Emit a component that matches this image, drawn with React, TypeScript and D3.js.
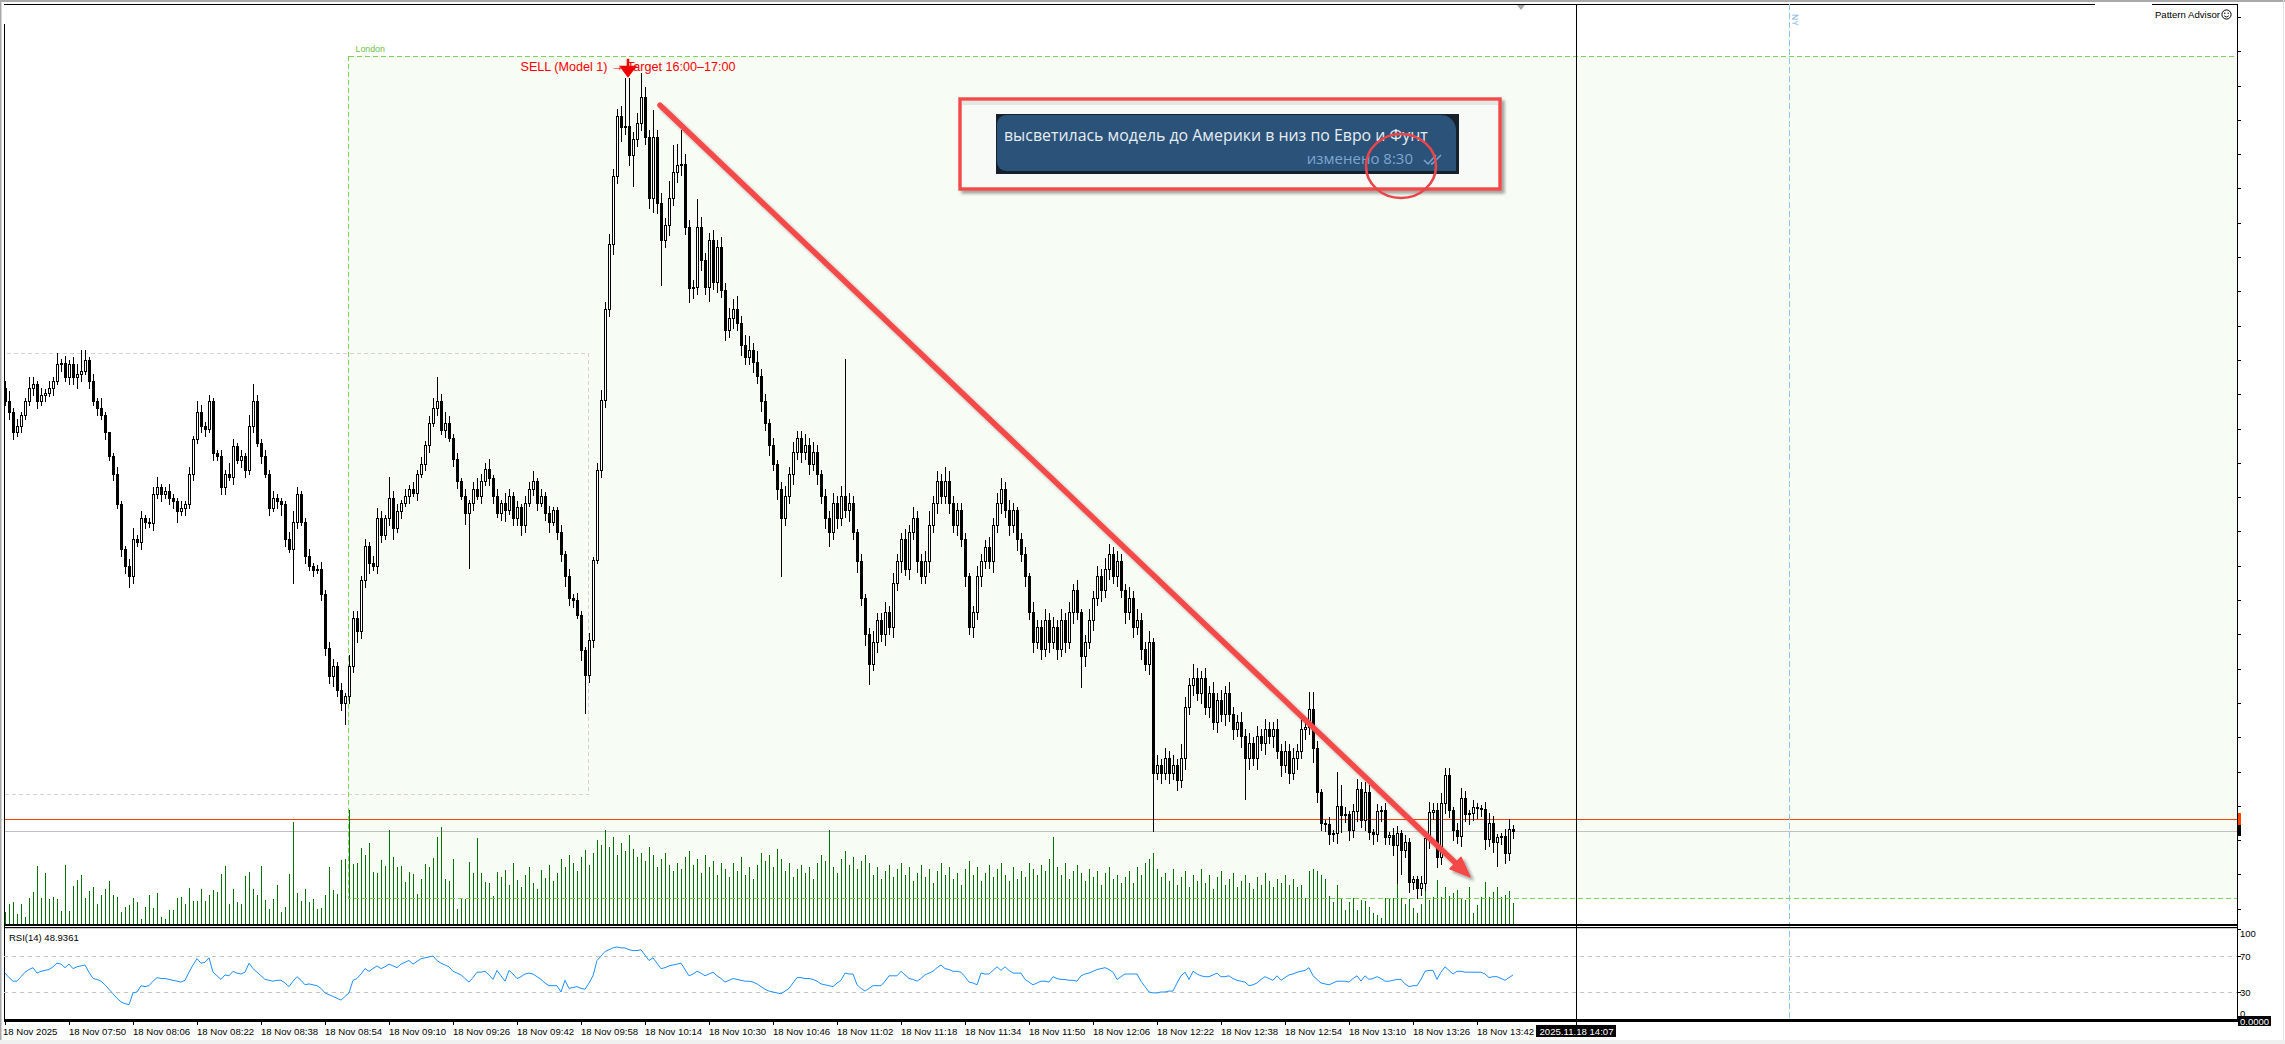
import React from "react";
import * as d3 from "d3";

// ---------- DATA (M1 candles, prices in points above 1.15700) ----------
const FIRST_OPEN = 161;
const CLOSES = [
  157,154,148,150,153,157,161,162,157,159,
  159.5,161,163,168,168.3,164,168,164,165,166,
  169,163,157,155,153,148,141,136,127,114,
  109,106,117,116,123,122,121.5,130,132,130,
  131,129,128,125,126,127,136,146,154,150,
  149,157,142,141,132,136,135,144,140,141,
  137,150,157,145,141,136,126,129,128,127,
  117,114,122,130,122,112,109,108,108.3,101,
  85,77,80,73,69,71,80,94,90,105,
  115,110,109,123,118,123,129,120,125,127.4,
  129.5,131.6,130.4,135.9,138.9,144.4,150.8,155,157.1,148.6,
  150.8,146.5,140.1,133.8,129.5,124.4,127.4,131.6,129.5,133.8,
  137.2,134.6,129.5,124.4,127.4,125.3,129.5,123.1,126.1,121,
  127.4,131.6,133.8,127.4,129.5,124.4,121.9,125.3,118.9,112.5,
  106.1,99.8,99.1,94.8,84.5,77.3,87.5,110.8,137,157.4,
  183.9,202.9,222.7,240.2,237,237.3,228.9,233.5,238.2,245.8,
  234.1,216.3,234.1,214.9,204.1,208.5,216.3,223.9,226,226.2,
  207.9,190.1,190.4,207.9,198.3,190.4,204.1,191.8,202,189.5,
  177.8,181.3,183.9,179.9,173.5,169.9,172,168.6,164.4,157.1,
  150.8,144.4,138.9,131.6,123.1,129.5,135.9,142.3,146.5,142.3,
  144.4,138.9,142.3,135.9,129.5,123.1,118.9,127.4,123.1,129.5,
  125.3,127.4,118.9,110.4,99.8,89.1,80.6,87,93.4,89.1,
  95.5,91.3,104,110.4,116.8,108.3,118.9,123.1,110.4,106.1,
  110.4,121,127.4,133.8,129.5,133.8,127.4,121,125.3,116.8,
  106.1,91.3,95.5,106.1,110.4,114.6,110.4,121,127.4,131.6,
  125.3,121,125.3,116.8,112.5,106.1,95.5,87,91.3,84.9,
  93.4,87,91.3,84.9,93.4,87,95.5,101.9,95.5,82.8,
  87,93.4,99.8,106.1,101.9,108.3,112.5,106.1,110.4,101.9,
  95.5,99.8,91.3,93.4,84.9,80.6,87,48.8,50.9,48.8,
  53,48.8,50.9,46.6,53,67.9,74.3,76.4,72.1,76.4,
  67.9,72.1,63.6,70,65.8,72.1,65.8,61.5,63.6,59.4,
  53,57.3,53,59.4,57.3,61.5,59.4,61.5,55.1,50.9,
  55.1,48.8,53,55.1,61.5,62.1,67.3,56,43.1,34.1,
  33.8,30.9,31.2,39.1,36.4,36.7,32.1,37.6,44,35,
  43.1,31.5,30.9,37.6,38,30,30.6,27.7,31.2,26.2,
  28.6,16.9,17.8,15.2,16.6,29.7,37.3,37.9,24.2,39.9,
  48.1,37.9,32.1,30.3,41.4,36.7,37,38.8,38.5,38.2,
  29.4,34.1,28.6,30,30.3,25.4,32.4,31.8
];
const WICK_UP = [
  2,3,1,2,1,1,3,2,1,2, 1,2,1,3,1,2,1,2,3,6, 3,1,2,1,3,1,0,1,2,1, 1,2,3,1,2,1,1,2,3,1,
  1,2,1,1,2,1,2,1,3,2, 1,2,1,1,2,1,3,2,1,2, 1,3,5,2,1,2,1,2,1,1, 1,2,3,2,1,1,2,1,1,2,
  1,2,2,1,2,1,3,2,2,1, 2,1,2,3,2,1,6,2,2,1, 2,1,2,1,2,1,2,3,7,2, 3,2,1,2,1,2,1,2,3,2,
  2,3,1,2,1,3,2,1,2,1, 2,2,3,1,2,1,2,1,1,2, 1,2,1,2,1,1,2,1,2,3, 2,3,2,2,3,14,14,2,3,7,
  3,2,8,2,3,2,5,8,6,10, 3,2,2,8,3,2,2,3,2,3, 2,3,3,4,2,3,4,2,3,2, 2,1,2,1,2,3,2,3,2,2,
  3,2,3,2,1,2,2,3,2,3, 40,3,2,1,2,1,2,3,2,2, 3,2,3,2,2,3,2,3,2,2, 3,4,2,3,2,4,3,2,2,2,
  2,1,2,3,2,2,3,2,3,3, 2,3,2,1,2,2,1,3,2,2, 3,2,3,2,3,2,3,2,3,1, 2,3,2,3,2,3,3,2,3,2,
  2,3,2,3,2,2,3,1,3,2, 3,2,3,2,4,3,2,4,3,2, 3,2,3,2,3,2,3,2,2,3, 2,3,2,3,2,3,2,2,3,2,
  3,2,3,2,3,2,5,5,2,1, 1,2,1,10,6,2,1,2,3,2, 3,2,1,2,1,2,1,2,2,1, 2,1,1,1,2,2,3,2,2,3,
  2,2,1,2,3,2,1,2,1,1, 2,3,2,1,1,2,3,1
];
const WICK_DN = [
  1,2,2,1,2,1,1,2,2,1, 2,1,2,1,2,1,2,2,3,2, 1,2,1,2,1,2,1,2,1,2, 2,3,2,1,2,2,1,2,1,2,
  1,2,2,3,1,2,1,2,1,2, 2,1,2,1,2,2,1,2,1,2, 2,1,2,1,2,1,2,1,2,3, 2,1,10,2,1,2,1,2,1,2,
  2,2,3,2,2,6,2,2,3,2, 2,3,1,2,2,1,2,3,1,2, 1,2,1,2,1,2,2,1,2,1, 2,1,2,2,1,3,16,2,1,2,
  1,2,2,1,2,3,1,2,2,3, 2,1,2,2,1,2,3,1,2,2, 3,2,2,1,3,11,2,2,1,2, 2,2,3,2,4,2,3,9,2,2,
  2,3,4,3,13,2,3,2,3,3, 2,4,3,2,3,2,4,2,3,2, 3,2,3,2,3,2,2,3,2,3, 2,3,2,3,17,2,2,3,2,3,
  2,3,2,3,2,3,4,2,3,2, 2,3,2,3,2,3,6,2,3,2, 3,2,3,2,3,2,3,2,3,2, 2,3,2,3,2,2,3,2,3,2,
  3,2,3,2,3,2,2,3,2,3, 2,3,2,3,2,3,2,3,2,3, 2,3,2,3,2,3,2,3,2,9, 3,2,3,2,3,2,3,2,3,2,
  3,2,3,2,3,2,3,17,2,3, 2,3,2,3,2,3,2,3,2,3, 2,3,2,3,2,3,2,3,2,3, 12,3,2,3,2,3,2,3,2,3,
  2,3,2,3,2,3,2,4,3,2, 2,3,2,3,5,2,3,2,3,2, 3,2,3,2,3,2,2,3,11,7, 2,3,2,3,2,2,3,2,3,2,
  3,2,3,2,3,2,3,2,3,2, 3,2,3,7,2,3,2,2
];
const VOLUMES = [
  13,21,23,11,21,8,27,33,59,27, 52,26,28,26,14,60,14,39,45,50, 27,34,38,21,30,36,44,30,28,13,
  18,20,27,23,6,18,30,17,32,8, 6,15,15,27,28,21,37,24,24,36, 24,30,35,33,51,59,21,36,23,21,
  49,53,36,30,59,25,16,26,40,13, 18,51,103,32,24,36,23,26,16,17, 30,58,35,31,65,66,115,61,62,77,
  70,82,53,52,65,59,95,68,58,59, 43,53,51,31,46,61,58,67,88,98, 46,44,66,16,26,26,63,52,87,52,
  43,42,29,53,48,55,40,62,45,38, 50,58,42,36,55,47,60,44,52,66, 58,70,62,54,68,75,60,72,85,80,
  95,78,88,70,82,74,90,76,68,72, 64,78,70,58,66,72,60,54,62,56, 68,74,60,66,52,70,58,64,50,62,
  56,48,62,54,68,50,58,46,60,72, 64,70,58,76,66,54,62,48,56,60, 52,58,46,62,70,64,95,58,52,66,
  74,60,68,56,64,70,62,50,58,46, 54,60,48,56,62,50,58,44,52,60, 48,56,42,54,62,50,58,46,52,40,
  56,64,50,58,44,52,60,48,56,62, 50,44,58,46,54,48,62,56,50,60, 54,66,88,58,50,62,46,54,60,52,
  44,56,48,54,40,52,58,46,50,42, 48,54,42,58,50,62,66,72,56,48, 52,44,56,40,48,54,38,50,44,56,
  42,50,36,48,54,40,46,52,38,44, 50,42,36,48,40,52,44,38,46,42, 50,40,46,38,40,27,54,56,54,50,
  46,29,23,40,27,15,23,27,15,25, 24,18,12,10,7,27,26,27,41,27, 21,26,17,12,21,40,25,28,45,28,
  38,29,32,35,27,25,38,12,20,28, 43,28,33,38,28,30,34,22
];
const RSI_VALUES = [
  51,46,42,42,47,52,55,57,51,53, 54,55,58,62,61,57,61,56,58,59, 60,52,45,44,42,38,33,28,23,19,
  17,16,29,30,37,36,37,42,46,45, 45,44,43,42,41,43,52,60,67,62, 63,68,52,48,44,49,48,53,51,50,
  52,62,56,52,48,44,43,42,43,43, 40,36,42,47,43,38,39,38,37,34, 29,27,25,23,21,25,29,43,45,50,
  56,53,56,59,56,58,61,59,57,61, 63,65,61,64,67,68,69,70,65,62, 60,58,53,51,49,45,41,46,52,52,
  53,49,44,54,48,42,54,50,45,47, 50,51,50,47,44,40,37,37,37,30, 43,34,35,36,34,33,40,48,65,70,
  75,77,79,80,79,79,77,76,76,77, 71,65,68,62,56,57,59,60,61,62, 55,48,50,53,51,48,50,52,48,45,
  41,43,45,44,43,42,42,41,39,36, 33,31,30,29,28,31,34,40,46,46, 45,45,44,42,39,38,37,36,40,43,
  51,50,50,38,34,31,34,37,37,37, 42,48,48,48,53,49,45,44,42,45, 49,51,53,57,60,56,55,53,53,52,
  47,41,40,38,51,50,50,54,58,54, 58,54,51,51,51,44,41,38,40,42, 42,41,47,45,44,44,43,43,42,48,
  50,51,53,55,56,57,55,52,44,47, 50,50,50,50,42,36,30,29,29,30, 30,31,31,40,48,52,44,53,50,48,
  47,47,49,51,47,47,48,45,43,42, 41,37,38,40,44,47,45,43,48,43, 46,49,50,52,53,54,57,48,44,40,
  39,38,40,42,42,42,41,45,48,42, 48,44,45,47,45,42,42,43,44,44, 39,36,37,37,44,53,54,54,44,52,
  58,54,50,53,53,52,52,52,52,52, 50,46,47,47,45,43,46,48.94
];
const RSI_LABEL = "RSI(14) 48.9361";
const RSI_LEVELS = [70, 30];
const RSI_AXIS = [100, 70, 30, 0];
const TIME_LABELS = [
  "18 Nov 2025", "18 Nov 07:50", "18 Nov 08:06", "18 Nov 08:22", "18 Nov 08:38", "18 Nov 08:54",
  "18 Nov 09:10", "18 Nov 09:26", "18 Nov 09:42", "18 Nov 09:58", "18 Nov 10:14", "18 Nov 10:30",
  "18 Nov 10:46", "18 Nov 11:02", "18 Nov 11:18", "18 Nov 11:34", "18 Nov 11:50", "18 Nov 12:06",
  "18 Nov 12:22", "18 Nov 12:38", "18 Nov 12:54", "18 Nov 13:10", "18 Nov 13:26", "18 Nov 13:42"
];
const LABEL_STEP = 16; // bars between time labels
const ASK_PRICE = 35.2;

const SESSION_LABELS = ["", "London"];
const SESSION_FROM = [-80, 86];
const SESSION_TO = [146, 700];
const SESSION_TOP = [171.1, 257.7];
const SESSION_BOTTOM = [42.6, 12.2];

const SIGNAL_INDEX = 155.75;
const SIGNAL_PRICE = 251.4;
const SIGNAL_TEXT = "SELL (Model 1) → Target 16:00–17:00";
const TREND_FROM = [163.75, 243.4];
const TREND_TO = [366.25, 18.4];
const CURSOR_INDEX = 392.75;
const CURSOR_LABEL = "2025.11.18 14:07";
const NY_INDEX = 446;
const NOTE_TEXT = "высветилась модель до Америки в низ по Евро и Фунт";
const NOTE_META = "изменено 8:30";

// ---------- LAYOUT ----------
const W = 2285, H = 1044;
const LEFT = 4, AXIS_X = 2237, TOP = 4, MAIN_BOTTOM = 924;
const FONT = "'Liberation Sans', Arial, sans-serif";

export default function App() {
  const n = CLOSES.length;
  const x = d3.scaleLinear().domain([0, n - 1]).range([5, 5 + 4 * (n - 1)]);
  const y = d3.scaleLinear().domain([4.665, 272.89]).range([MAIN_BOTTOM, TOP]);
  const yVol = d3.scaleLinear().domain([0, 130]).range([925, 795]);
  const yRsi = d3.scaleLinear().domain([0, 100]).range([1019, 929]);

  const candles = CLOSES.map((c, i) => {
    const o = i === 0 ? FIRST_OPEN : CLOSES[i - 1];
    return { i, o, c, hi: Math.max(o, c) + WICK_UP[i], lo: Math.min(o, c) - WICK_DN[i] };
  });

  const rsiPath = d3.line<number>().x((_, i) => x(i)).y((v) => yRsi(v))(RSI_VALUES) || "";
  const priceTicks = d3.range(9.1, 272, 10);

  const tx1 = x(TREND_FROM[0]), ty1 = y(TREND_FROM[1]);
  const tx2 = x(TREND_TO[0]), ty2 = y(TREND_TO[1]);
  const tl = Math.hypot(tx2 - tx1, ty2 - ty1);
  const ux = (tx2 - tx1) / tl, uy = (ty2 - ty1) / tl;
  const headL = 20, headW = 8;
  const bx = tx2 - ux * headL, by = ty2 - uy * headL;
  const head = `M${tx2},${ty2} L${bx - uy * headW},${by + ux * headW} L${bx + uy * headW},${by - ux * headW} Z`;

  const sx = x(SIGNAL_INDEX);
  const sTip = y(SIGNAL_PRICE);
  const cursorX = Math.round(x(CURSOR_INDEX)) + 0.5;
  const nyX = Math.round(x(NY_INDEX)) + 0.5;

  const bx0 = 997, by0 = 115, bx1 = 1456, by1 = 171, rs = 9, rl = 15;
  const bubble = `M${bx0 + rs},${by0} H${bx1 - rl} A${rl},${rl} 0 0 1 ${bx1},${by0 + rl} V${by1} H${bx0 + rs} A${rs},${rs} 0 0 1 ${bx0},${by1 - rs} V${by0 + rs} A${rs},${rs} 0 0 1 ${bx0 + rs},${by0} Z`;

  const sessionRect = (s: number) => {
    const x0 = x(SESSION_FROM[s]) - 0.5, x1 = x(SESSION_TO[s]) - 0.5;
    const y0 = Math.round(y(SESSION_TOP[s])) + 0.5, y1 = Math.round(y(SESSION_BOTTOM[s])) + 0.5;
    return { x0, x1, y0, y1 };
  };

  return (
    <svg width={W} height={H} viewBox={`0 0 ${W} ${H}`}
      style={{ position: "absolute", left: 0, top: 0, display: "block", background: "#fff" }}>
      <defs>
        <clipPath id="main"><rect x={LEFT} y={TOP} width={AXIS_X - LEFT} height={MAIN_BOTTOM - TOP + 1} /></clipPath>
        <clipPath id="rsi"><rect x={LEFT} y={929} width={AXIS_X - LEFT} height={90} /></clipPath>
        <filter id="shadow" filterUnits="userSpaceOnUse" x="0" y="0" width={W} height={H}>
          <feDropShadow dx="3" dy="3" stdDeviation="1.6" floodColor="#000" floodOpacity="0.35" />
        </filter>
      </defs>

      <rect x={0} y={0} width={W} height={2} fill="#a9a9a9" />
      <rect x={0} y={0} width={1.5} height={H} fill="#a9a9a9" />
      <rect x={W - 2} y={0} width={1} height={H} fill="#e0e0e0" />
      <rect x={0} y={1040} width={W} height={4} fill="#f0f0f0" />

      <g clipPath="url(#main)">
        {/* session fills first, then dashed outlines */}
        {SESSION_LABELS.map((lab, s) => {
          if (!lab) return null;
          const r = sessionRect(s);
          return <rect key={s} x={r.x0} y={r.y0} width={r.x1 - r.x0} height={r.y1 - r.y0} fill="#f7fcf4" />;
        })}
        {SESSION_LABELS.map((lab, s) => {
          if (lab) return null;
          const r = sessionRect(s);
          return <rect key={s} x={r.x0} y={r.y0} width={r.x1 - r.x0} height={r.y1 - r.y0} fill="none"
            stroke="#d2d2d2" strokeDasharray="4,3" shapeRendering="crispEdges" />;
        })}

        <line x1={LEFT} x2={AXIS_X} y1={Math.round(y(CLOSES[n - 1])) + 0.5} y2={Math.round(y(CLOSES[n - 1])) + 0.5}
          stroke="#c0c0c0" shapeRendering="crispEdges" />
        <line x1={LEFT} x2={AXIS_X} y1={Math.round(y(ASK_PRICE)) + 0.5} y2={Math.round(y(ASK_PRICE)) + 0.5}
          stroke="#ff4500" shapeRendering="crispEdges" />

        <g stroke="#007400" shapeRendering="crispEdges">
          {VOLUMES.map((v, i) => {
            const xc = Math.round(x(i)) + 0.5;
            return <line key={i} x1={xc} x2={xc} y1={yVol(0)} y2={Math.round(yVol(v))} />;
          })}
        </g>

        {SESSION_LABELS.map((lab, s) => {
          if (!lab) return null;
          const r = sessionRect(s);
          return (
            <g key={s}>
              <rect x={r.x0} y={r.y0} width={r.x1 - r.x0} height={r.y1 - r.y0} fill="none" stroke="#7dd35a"
                strokeDasharray="5,3" shapeRendering="crispEdges" />
              <text x={r.x0 + 7} y={r.y0 - 5} fontFamily={FONT} fontSize={8.8} fill="#69bf45">{lab}</text>
            </g>
          );
        })}

        <g shapeRendering="crispEdges">
          {candles.map((d) => {
            const xc = Math.round(x(d.i));
            const top = Math.round(y(Math.max(d.o, d.c)));
            const bot = Math.round(y(Math.min(d.o, d.c)));
            const yh = Math.round(y(d.hi));
            const yl = Math.round(y(d.lo));
            const bull = d.c >= d.o;
            return (
              <g key={d.i}>
                <line x1={xc + 0.5} x2={xc + 0.5} y1={yh} y2={yl + 1} stroke="#000" />
                {bot - top < 1 ? (
                  <line x1={xc - 1} x2={xc + 2} y1={top + 0.5} y2={top + 0.5} stroke="#000" />
                ) : (
                  <rect x={xc - 0.5} y={top + 0.5} width={2} height={bot - top}
                    fill={bull ? "#fff" : "#000"} stroke="#000" />
                )}
              </g>
            );
          })}
        </g>

        <text x={sx} y={71} textAnchor="middle" fontFamily={FONT} fontSize={12.6} fill="#ff0000">{SIGNAL_TEXT}</text>
        <path d={`M${sx - 1.3},${sTip - 19} H${sx + 1.3} V${sTip - 12} H${sx + 9} L${sx},${sTip} L${sx - 9},${sTip - 12} H${sx - 1.3} Z`}
          fill="#f00000" />

        <g filter="url(#shadow)">
          <line x1={tx1} y1={ty1} x2={bx + ux * 4} y2={by + uy * 4} stroke="#f44848" strokeWidth={5.5} strokeLinecap="round" />
          <path d={head} fill="#f44848" stroke="#f44848" strokeWidth={1.5} strokeLinejoin="round" />
        </g>
      </g>

      <line x1={LEFT} x2={2095} y1={4.5} y2={4.5} stroke="#000" shapeRendering="crispEdges" />
      <line x1={2152} x2={AXIS_X} y1={4.5} y2={4.5} stroke="#000" shapeRendering="crispEdges" />
      <line x1={LEFT + 0.5} x2={LEFT + 0.5} y1={24} y2={1020} stroke="#000" shapeRendering="crispEdges" />
      <path d={`M1517,5 L1525,5 L1521,10 Z`} fill="#a8a8a8" />

      <line x1={cursorX} x2={cursorX} y1={4} y2={1025} stroke="#000" shapeRendering="crispEdges" />
      <line x1={nyX} x2={nyX} y1={4} y2={1020} stroke="#8cc6ee" strokeDasharray="6,3" shapeRendering="crispEdges" />
      <text transform={`translate(${nyX + 2},14) rotate(90)`} fontFamily={FONT} fontSize={8.5} fill="#79b4e4">NY</text>

      <line x1={AXIS_X + 0.5} x2={AXIS_X + 0.5} y1={4} y2={1021} stroke="#000" shapeRendering="crispEdges" />
      <g stroke="#000" shapeRendering="crispEdges">
        {priceTicks.map((t, k) => {
          const yy = Math.round(y(t)) + 0.5;
          return <line key={k} x1={AXIS_X} x2={AXIS_X + 4} y1={yy} y2={yy} />;
        })}
      </g>
      <rect x={AXIS_X + 1} y={Math.round(y(ASK_PRICE)) - 6} width={3} height={12} fill="#ff4500" />
      <rect x={AXIS_X + 1} y={Math.round(y(ASK_PRICE)) + 6} width={3} height={11} fill="#000" />

      <text x={2220} y={18} textAnchor="end" fontFamily={FONT} fontSize={9.6} fill="#000">Pattern Advisor</text>
      <circle cx={2226.5} cy={14.5} r={4.6} fill="none" stroke="#000" strokeWidth={1} />
      <circle cx={2224.8} cy={13.3} r={0.7} fill="#000" />
      <circle cx={2228.2} cy={13.3} r={0.7} fill="#000" />
      <path d="M2224.2,15.8 Q2226.5,18.4 2228.8,15.8" fill="none" stroke="#000" strokeWidth={0.9} />

      <rect x={LEFT} y={924} width={AXIS_X - LEFT + 1} height={2} fill="#000" />
      <rect x={LEFT} y={927} width={AXIS_X - LEFT + 1} height={1.2} fill="#000" />
      <rect x={LEFT} y={1019} width={AXIS_X - LEFT + 1} height={3} fill="#000" />

      <g clipPath="url(#rsi)">
        {RSI_LEVELS.map((lv) => (
          <line key={lv} x1={LEFT} x2={AXIS_X} y1={Math.round(yRsi(lv)) + 0.5} y2={Math.round(yRsi(lv)) + 0.5}
            stroke="#c4c4c4" strokeDasharray="4,4" shapeRendering="crispEdges" />
        ))}
        <path d={rsiPath} fill="none" stroke="#1e90ff" strokeWidth={1} />
      </g>
      <text x={9} y={941} fontFamily={FONT} fontSize={9.5} fill="#000">{RSI_LABEL}</text>
      {RSI_AXIS.map((lv) => (
        <g key={lv}>
          <line x1={AXIS_X} x2={AXIS_X + 4} y1={Math.round(yRsi(lv)) + 0.5} y2={Math.round(yRsi(lv)) + 0.5} stroke="#000" shapeRendering="crispEdges" />
          <text x={AXIS_X + 3} y={yRsi(lv) + (lv === 100 ? 8 : lv === 0 ? -2 : 3.5)} fontFamily={FONT} fontSize={9.5} fill="#000">{lv}</text>
        </g>
      ))}
      <rect x={AXIS_X + 1} y={1016} width={33} height={10} fill="#000" />
      <text x={AXIS_X + 3} y={1024.5} fontFamily={FONT} fontSize={9.5} fill="#fff">0.0000</text>

      {TIME_LABELS.map((lab, k) => {
        const xx = Math.round(x(k * LABEL_STEP));
        return (
          <g key={k}>
            <line x1={xx + 0.5} x2={xx + 0.5} y1={1021} y2={1025} stroke="#000" shapeRendering="crispEdges" />
            <text x={xx - (k === 0 ? 2 : 0)} y={1034.5} fontFamily={FONT} fontSize={9.6} fill="#000">{lab}</text>
          </g>
        );
      })}
      <rect x={cursorX - 40.5} y={1025} width={80} height={12} fill="#000" />
      <text x={cursorX} y={1034.5} textAnchor="middle" fontFamily={FONT} fontSize={9.6} fill="#fff">{CURSOR_LABEL}</text>

      <g>
        <rect x={960} y={99} width={540} height={90} fill="#f8faf8" stroke="#f24848" strokeWidth={3.4} filter="url(#shadow)" />
        <rect x={962} y={101} width={536} height={4} fill="#d9dcd9" opacity={0.6} />
        <rect x={996} y={114} width={463} height={60} fill="#17212b" />
        <path d={bubble} fill="#2b5278" />
        <text x={1004} y={141} fontFamily="'Open Sans', 'Noto Sans', sans-serif" fontSize={15.9} fill="#e6edf4">{NOTE_TEXT}</text>
        <text x={1413} y={164} textAnchor="end" fontFamily="'Open Sans', 'Noto Sans', sans-serif" fontSize={15} fill="#7ba6d1">{NOTE_META}</text>
        <path d="M1424,160 L1428,164 L1436,155 M1431,163.5 L1432,164 L1441,155" fill="none" stroke="#7ba6d1" strokeWidth={1.5} />
        <ellipse cx={1401} cy={166} rx={35} ry={32} fill="none" stroke="#e8464a" strokeWidth={2.6} />
      </g>
    </svg>
  );
}
